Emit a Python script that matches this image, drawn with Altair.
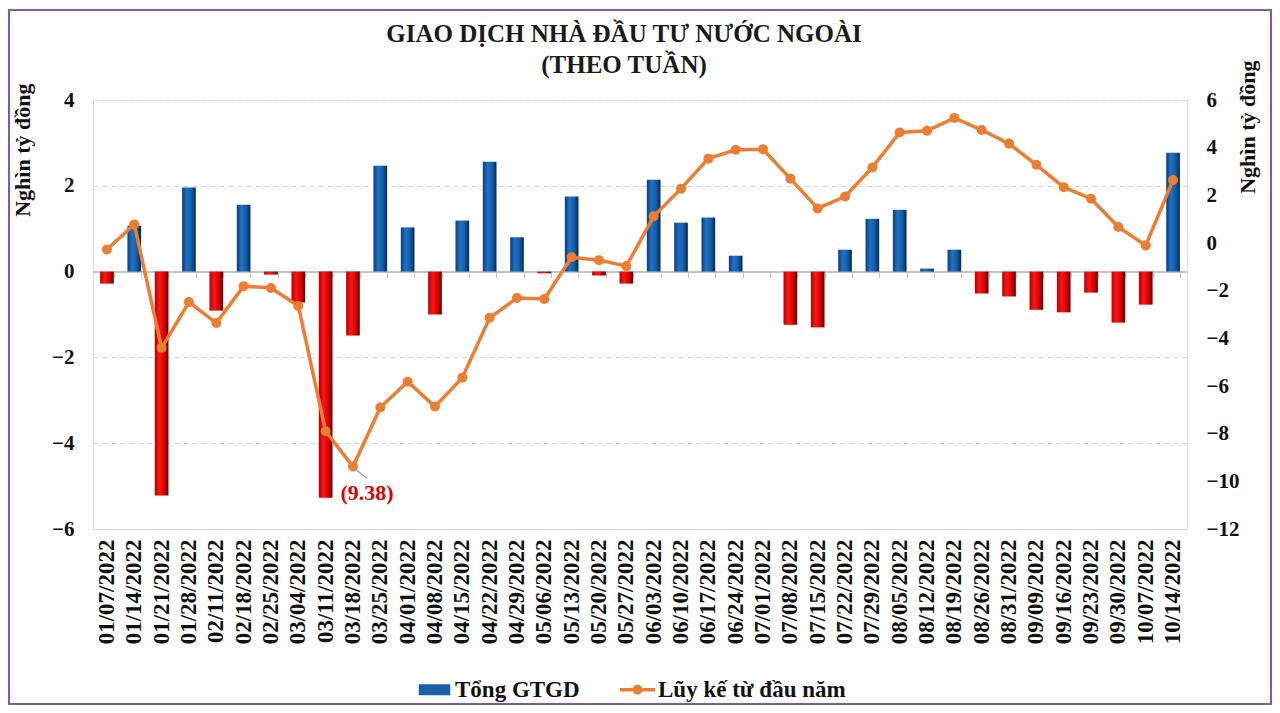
import altair as alt
import pandas as pd

dates = ["01/07/2022", "01/14/2022", "01/21/2022", "01/28/2022", "02/11/2022", "02/18/2022",
         "02/25/2022", "03/04/2022", "03/11/2022", "03/18/2022", "03/25/2022", "04/01/2022",
         "04/08/2022", "04/15/2022", "04/22/2022", "04/29/2022", "05/06/2022", "05/13/2022",
         "05/20/2022", "05/27/2022", "06/03/2022", "06/10/2022", "06/17/2022", "06/24/2022",
         "07/01/2022", "07/08/2022", "07/15/2022", "07/22/2022", "07/29/2022", "08/05/2022",
         "08/12/2022", "08/19/2022", "08/26/2022", "08/31/2022", "09/09/2022", "09/16/2022",
         "09/23/2022", "09/30/2022", "10/07/2022", "10/14/2022"]

weekly = [-0.28, 1.07, -5.22, 1.96, -0.91, 1.56, -0.07, -0.72, -5.27, -1.49,
          2.47, 1.03, -1.00, 1.19, 2.56, 0.80, -0.04, 1.75, -0.09, -0.28,
          2.14, 1.14, 1.26, 0.37, 0.00, -1.24, -1.30, 0.51, 1.23, 1.44,
          0.07, 0.51, -0.51, -0.58, -0.89, -0.95, -0.49, -1.19, -0.77, 2.77]

cumulative = [-0.27, 0.78, -4.40, -2.48, -3.36, -1.81, -1.89, -2.64, -7.90, -9.38,
              -6.90, -5.82, -6.86, -5.65, -3.14, -2.31, -2.35, -0.60, -0.72, -0.97,
              1.12, 2.28, 3.54, 3.91, 3.93, 2.70, 1.45, 1.95, 3.17, 4.64,
              4.71, 5.25, 4.74, 4.17, 3.28, 2.34, 1.86, 0.67, -0.10, 2.64]

series = ["Tổng GTGD", "Lũy kế từ đầu năm"]
series_colors = ["#1a5fa8", "#ED7D31"]

left_ticks = [-6, -4, -2, 0, 2, 4]
right_ticks = [-12, -10, -8, -6, -4, -2, 0, 2, 4, 6]

df = pd.DataFrame({"date": dates, "weekly": weekly, "cum": cumulative})
df_series = pd.DataFrame({"s": series})

FONT = "Liberation Serif"
W, H = 1094, 429
LEFT_DOM = [-6, 4]
RIGHT_DOM = [-12, 6]
ORANGE = "#ED7D31"

xscale = alt.Scale(domain=dates, paddingInner=0.5, paddingOuter=0.26)

blue_grad = alt.Gradient(gradient="linear", x1=0, x2=1, y1=0, y2=0,
                         stops=[alt.GradientStop(color="#0b3f7a", offset=0),
                                alt.GradientStop(color="#1f72c6", offset=0.35),
                                alt.GradientStop(color="#125aa3", offset=0.7),
                                alt.GradientStop(color="#06284f", offset=1)])
red_grad = alt.Gradient(gradient="linear", x1=0, x2=1, y1=0, y2=0,
                        stops=[alt.GradientStop(color="#b80000", offset=0),
                               alt.GradientStop(color="#ff1414", offset=0.35),
                               alt.GradientStop(color="#d80000", offset=0.7),
                               alt.GradientStop(color="#5a0000", offset=1)])

label_axis = alt.Axis(title=None, domain=False, ticks=False, labelAngle=-90, labelPadding=10,
                      labelFont=FONT, labelFontSize=23, labelFontWeight="bold", labelColor="#111111")

zero_offset = -(H - H * (LEFT_DOM[1] - 0) / (LEFT_DOM[1] - LEFT_DOM[0]))
zero_axis = alt.Axis(title=None, labels=False, orient="bottom", offset=zero_offset,
                     tickBand="extent", ticks=True, tickSize=6, tickColor="#c4c4c4",
                     domainColor="#c4c4c4", domainWidth=2, grid=False)

left_axis = alt.Axis(values=left_ticks, grid=True, gridDash=[5, 4], gridColor="#d4d4d4",
                     domain=False, ticks=False, labelPadding=19,
                     labelFont=FONT, labelFontSize=21, labelFontWeight="bold", labelColor="#111111",
                     title="Nghìn tỷ đồng", titleFont=FONT, titleFontSize=22, titleFontWeight="bold",
                     titleColor="#111111", titleAngle=-90, titleAlign="right", titleBaseline="middle",
                     titleX=-71, titleY=-17)

right_axis = alt.Axis(orient="right", values=right_ticks, grid=False, domain=False, ticks=False,
                      labelPadding=19, labelFont=FONT, labelFontSize=21, labelFontWeight="bold",
                      labelColor="#111111",
                      title="Nghìn tỷ đồng", titleFont=FONT, titleFontSize=22, titleFontWeight="bold",
                      titleColor="#111111", titleAngle=-90, titleAlign="right", titleBaseline="middle",
                      titleX=60, titleY=-40)

base = alt.Chart(df)

bars_pos = base.transform_filter("datum.weekly >= 0").mark_bar(color=blue_grad).encode(
    x=alt.X("date:N", scale=xscale, axis=label_axis),
    y=alt.Y("weekly:Q", scale=alt.Scale(domain=LEFT_DOM, nice=False), axis=left_axis),
)

bars_neg = base.transform_filter("datum.weekly < 0").mark_bar(color=red_grad).encode(
    x=alt.X("date:N", scale=xscale, axis=zero_axis),
    y=alt.Y("weekly:Q", scale=alt.Scale(domain=LEFT_DOM, nice=False), axis=None),
)

line = base.mark_line(color=ORANGE, strokeWidth=3.5).encode(
    x=alt.X("date:N", scale=xscale, axis=None),
    y=alt.Y("cum:Q", scale=alt.Scale(domain=RIGHT_DOM, nice=False), axis=right_axis),
)

points = base.mark_circle(color=ORANGE, size=100, opacity=1).encode(
    x=alt.X("date:N", scale=xscale, axis=None),
    y=alt.Y("cum:Q", scale=alt.Scale(domain=RIGHT_DOM, nice=False), axis=None),
)

min_pt = base.transform_joinaggregate(mincum="min(cum)").transform_filter(
    "datum.cum == datum.mincum"
).transform_calculate(
    label="'(' + format(-datum.cum, '.2f') + ')'"
)

annot = min_pt.mark_text(font=FONT, fontSize=22, fontWeight="bold", color="#e00000",
                         dx=14, dy=26).encode(
    x=alt.X("date:N", scale=xscale, axis=None),
    y=alt.Y("cum:Q", scale=alt.Scale(domain=RIGHT_DOM, nice=False), axis=None),
    text="label:N",
)

leader = min_pt.mark_rule(color="#9a9a9a", strokeWidth=1.2, xOffset=3, yOffset=3,
                          x2Offset=14, y2Offset=12).encode(
    x=alt.X("date:N", scale=xscale, axis=None),
    y=alt.Y("cum:Q", scale=alt.Scale(domain=RIGHT_DOM, nice=False), axis=None),
    x2=alt.X2("date:N"),
    y2=alt.Y2("cum:Q"),
)

rect_path = "M-0.9,-0.32H0.9V0.32H-0.9Z"
line_path = ("M-1,-0.1H-0.28V0.1H-1Z M0.28,-0.1H1V0.1H0.28Z "
             "M-0.28,0 A0.28,0.28 0 1,1 0.28,0 A0.28,0.28 0 1,1 -0.28,0Z")

leg = alt.Legend(title=None, orient="none", legendX=324, legendY=572, direction="horizontal",
                 symbolSize=1225, symbolOpacity=1, symbolStrokeWidth=0, labelFont=FONT,
                 labelFontSize=23, labelFontWeight="bold", labelColor="#111111", labelOffset=3,
                 labelLimit=400, columnPadding=40, padding=0)

legend_layer = alt.Chart(df_series).mark_point(filled=True, opacity=0).encode(
    color=alt.Color("s:N", scale=alt.Scale(domain=series, range=series_colors), legend=leg),
    shape=alt.Shape("s:N", scale=alt.Scale(domain=series, range=[rect_path, line_path]), legend=leg),
)

border = alt.Chart(alt.Data(values=[{}])).mark_rect(
    fillOpacity=0, stroke="#7e57b8", strokeWidth=2
).encode(
    x=alt.value(-84), x2=alt.value(W + 84), y=alt.value(-90), y2=alt.value(H + 175)
)

chart = alt.layer(
    bars_pos, bars_neg, line, points, leader, annot, legend_layer, border
).resolve_scale(
    y="independent", x="shared"
).resolve_axis(
    x="independent", y="independent"
).properties(
    width=W, height=H,
    autosize=alt.AutoSizeParams(type="none"),
    padding={"left": 85, "top": 92, "right": 85, "bottom": 176},
    title=alt.Title(["GIAO DỊCH NHÀ ĐẦU TƯ NƯỚC NGOÀI", "(THEO TUẦN)"], font=FONT, fontSize=25,
                    fontWeight="bold", color="#1a1a1a", anchor="middle", offset=20, dx=-16, dy=89,
                    lineHeight=31),
).configure_view(strokeWidth=0).configure(background="white")

chart.save("out.html", embed_options={"renderer": "svg", "actions": False})
